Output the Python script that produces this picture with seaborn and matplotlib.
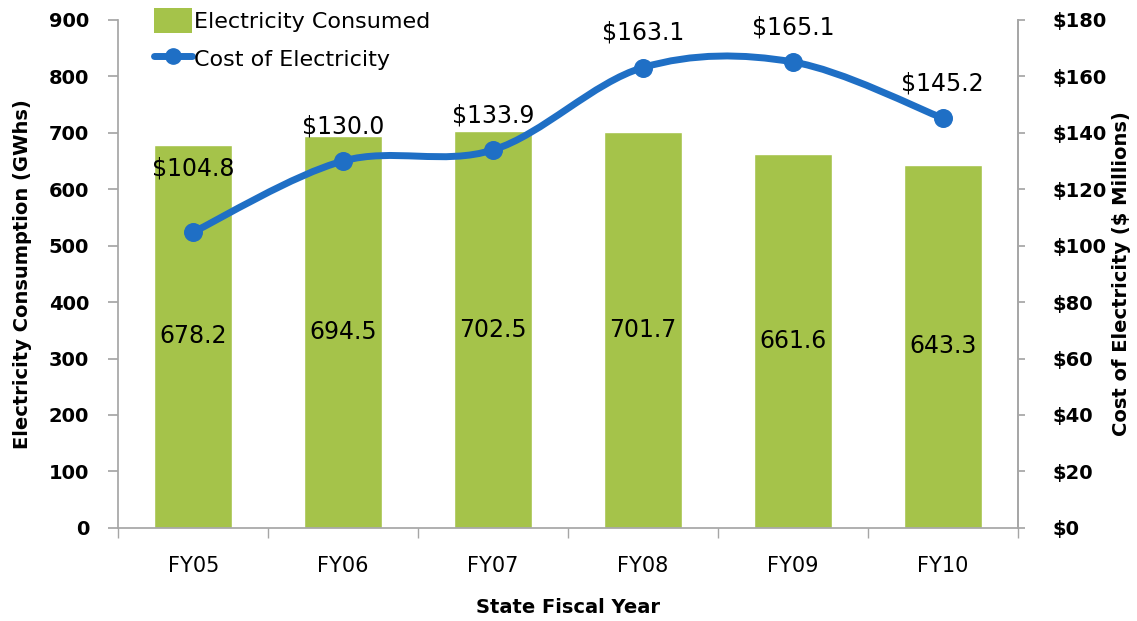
import numpy as np
import pandas as pd
import matplotlib
matplotlib.use('Agg')
import matplotlib.pyplot as plt
from matplotlib.path import Path
from matplotlib.patches import PathPatch, Patch
from matplotlib.lines import Line2D
import seaborn as sns

sns.set_theme(style='white')
plt.rcParams['font.family'] = ['DejaVu Sans']
plt.rcParams['text.color'] = 'black'
plt.rcParams['xtick.color'] = 'black'
plt.rcParams['ytick.color'] = 'black'
plt.rcParams['axes.labelcolor'] = 'black'

years = ['FY05', 'FY06', 'FY07', 'FY08', 'FY09', 'FY10']
consumed = [678.2, 694.5, 702.5, 701.7, 661.6, 643.3]
cost = [104.8, 130.0, 133.9, 163.1, 165.1, 145.2]

green = '#a5c34a'
blue = '#1f6fc5'
spine_col = '#a6a6a6'

df = pd.DataFrame({'year': years, 'consumed': consumed, 'cost': cost})

fig = plt.figure(figsize=(11.37, 6.21), dpi=100)
ax = fig.add_axes([0.104, 0.150, 0.791, 0.818])
sns.barplot(data=df, x='year', y='consumed', color=green, width=0.52,
            saturation=1, ax=ax)
ax.set_xlim(-0.5, len(years) - 0.5)
ax.set_ylim(0, 900)
ax.set_yticks(range(0, 901, 100))
ax.tick_params(axis='y', labelsize=14, length=7, color=spine_col, direction='out',
               left=True, pad=14)
for t in ax.get_yticklabels():
    t.set_fontweight('bold')
ax.set_xticks(range(len(years)))
ax.set_xticklabels(years, fontsize=15)
ax.tick_params(axis='x', length=0, pad=20)
# category separator ticks
ax.set_xticks(np.arange(-0.5, len(years)), minor=True)
ax.tick_params(axis='x', which='minor', length=7, color=spine_col, direction='out', bottom=True)
ax.spines['top'].set_visible(False)
for s in ['left', 'bottom', 'right']:
    ax.spines[s].set_color(spine_col)
ax.set_xlabel('State Fiscal Year', fontsize=14, fontweight='bold', labelpad=16)
ax.set_ylabel('Electricity Consumption (GWhs)', fontsize=14, fontweight='bold', labelpad=12)

for i, v in enumerate(consumed):
    ax.text(i, v / 2, f'{v:.1f}', ha='center', va='center', fontsize=17, color='black')

ax2 = ax.twinx()
ax2.set_ylim(0, 180)
ax2.set_yticks(range(0, 181, 20))
ax2.set_yticklabels([f'${v}' for v in range(0, 181, 20)], fontsize=14, fontweight='bold')
ax2.tick_params(axis='y', length=5, color=spine_col, direction='out', right=True, pad=20)
for s in ['top', 'left', 'bottom']:
    ax2.spines[s].set_visible(False)
ax2.spines['right'].set_color(spine_col)
ax2.set_ylabel('Cost of Electricity ($ Millions)', fontsize=14, fontweight='bold', labelpad=4)

# smoothed line (Catmull-Rom as bezier segments through the data points)
xs = np.arange(len(cost), dtype=float)
ys = np.array(cost, dtype=float)
px = np.concatenate([[xs[0]], xs, [xs[-1]]])
py = np.concatenate([[ys[0]], ys, [ys[-1]]])
verts = [(xs[0], ys[0])]
codes = [Path.MOVETO]
k = 1 / 6
for i in range(1, len(px) - 2):
    c1 = (px[i] + (px[i + 1] - px[i - 1]) * k, py[i] + (py[i + 1] - py[i - 1]) * k)
    c2 = (px[i + 1] - (px[i + 2] - px[i]) * k, py[i + 1] - (py[i + 2] - py[i]) * k)
    verts += [c1, c2, (px[i + 1], py[i + 1])]
    codes += [Path.CURVE4] * 3
ax2.add_patch(PathPatch(Path(verts, codes), facecolor='none', edgecolor=blue, lw=5,
                        capstyle='round', zorder=3))
sns.scatterplot(x=xs, y=ys, color=blue, s=160, edgecolor=blue, ax=ax2, zorder=4)

for i, v in enumerate(cost):
    off = 46 if i == 0 else 25
    ax2.annotate(f'${v:.1f}', (i, v), xytext=(0, off), textcoords='offset points',
                 ha='center', va='center', fontsize=17)

handles = [Patch(facecolor=green, edgecolor='none'),
           Line2D([0], [0], color=blue, lw=5, marker='o', markersize=11)]
ax.legend(handles, ['Electricity Consumed', 'Cost of Electricity'], loc='upper left',
          bbox_to_anchor=(0.018, 1.062), frameon=False, fontsize=16, handlelength=1.7,
          handleheight=1.3, handletextpad=0.1, labelspacing=0.62)

fig.savefig('out.png', dpi=100)
